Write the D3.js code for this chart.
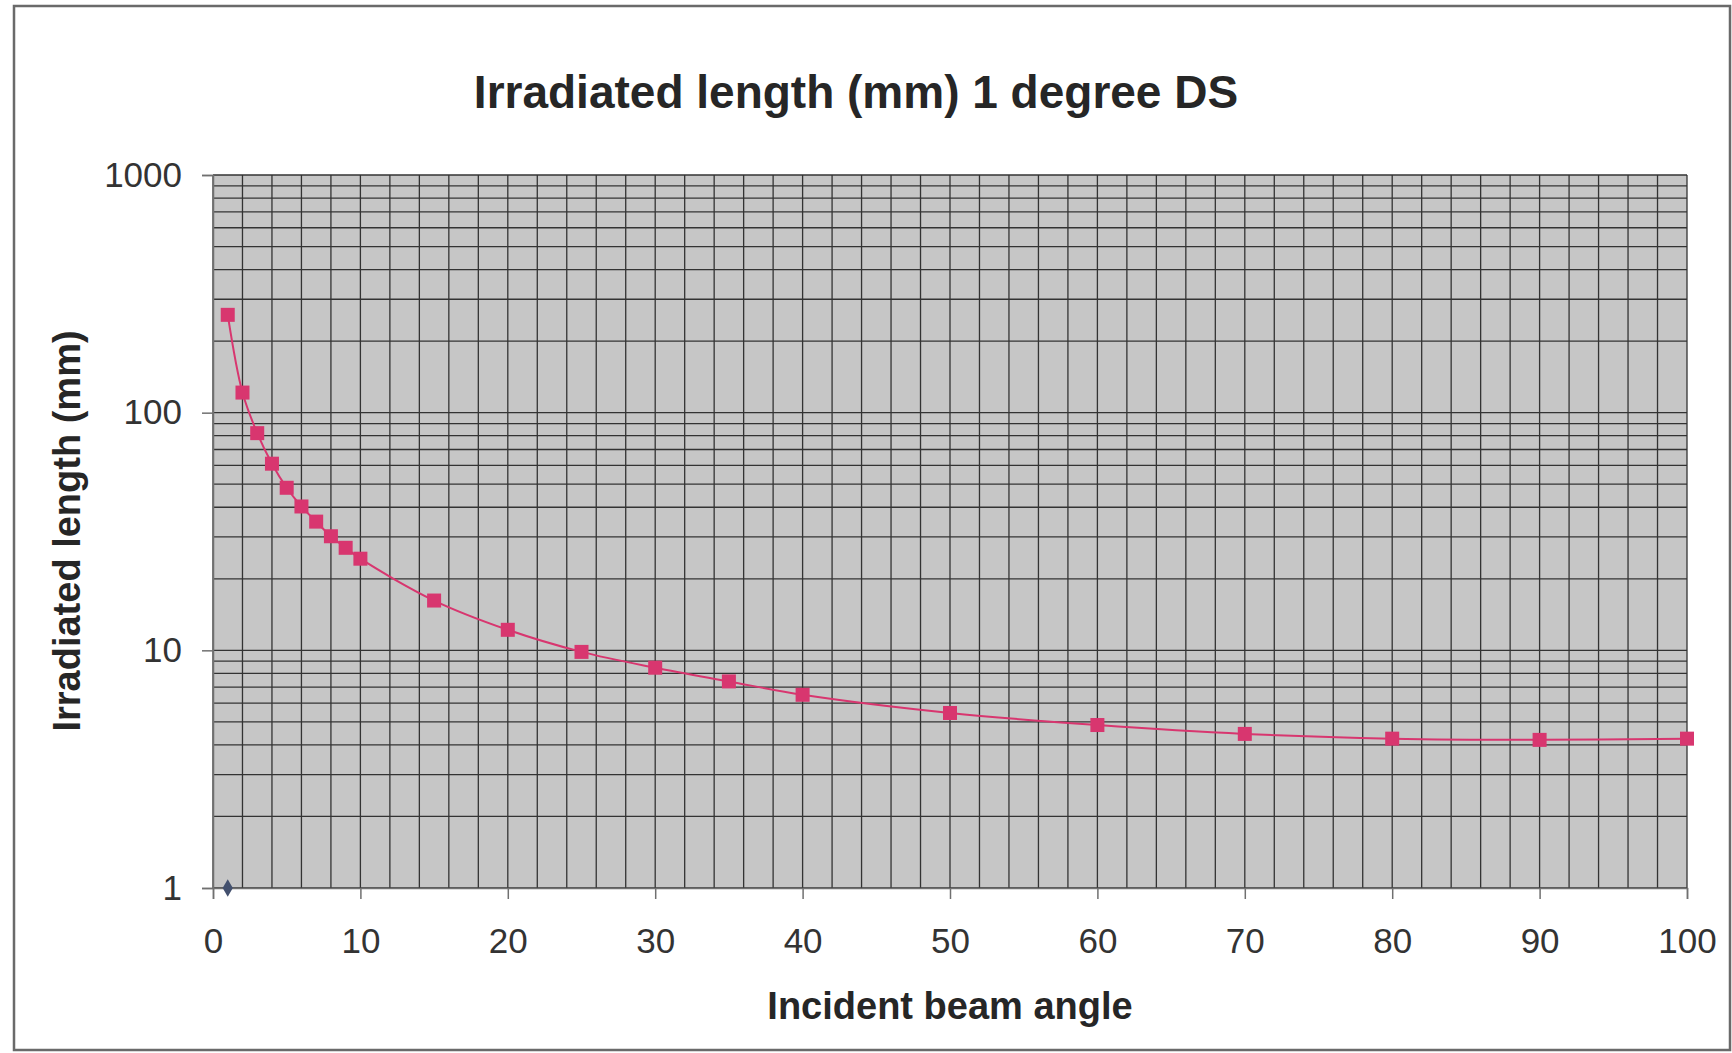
<!DOCTYPE html>
<html>
<head>
<meta charset="utf-8">
<script src="https://cdn.jsdelivr.net/npm/d3@7"></script>
<style>
  body { margin: 0; background: #fff; }
  text { font-family: "Liberation Sans", Arial, sans-serif; }
</style>
</head>
<body>
<div id="chart"></div>
<script>
// incident beam angle (deg)
var angles = [1, 2, 3, 4, 5, 6, 7, 8, 9, 10, 15, 20, 25, 30, 35, 40, 50, 60, 70, 80, 90, 100];
// irradiated length (mm)
var lengths = [258, 121.5, 82, 61, 48.3, 40.3, 34.8, 30.2, 27, 24.3, 16.2, 12.2, 9.85, 8.45, 7.4, 6.5, 5.45, 4.85, 4.45, 4.25, 4.2, 4.25];
// second series, a single point sitting on the axis
var series2 = [{x: 1, y: 1}];

var xTicks = [0, 10, 20, 30, 40, 50, 60, 70, 80, 90, 100];
var yTicks = [1, 10, 100, 1000];

var W = 1732, H = 1053;
var margin = {left: 213, right: 45, top: 175, bottom: 165};
var width = W - margin.left - margin.right;
var height = H - margin.top - margin.bottom;

var svg = d3.select("#chart").append("svg")
  .attr("width", W)
  .attr("height", H);

// outer frame
svg.append("rect")
  .attr("x", 14).attr("y", 6)
  .attr("width", 1716).attr("height", 1044)
  .attr("fill", "none")
  .attr("stroke", "#6a6a6a")
  .attr("stroke-width", 2.5);

svg.append("text")
  .attr("x", 856).attr("y", 108)
  .attr("text-anchor", "middle")
  .attr("font-size", 46)
  .attr("font-weight", "bold")
  .attr("fill", "#262626")
  .text("Irradiated length (mm) 1 degree DS");

var g = svg.append("g")
  .attr("transform", "translate(" + margin.left + "," + margin.top + ")");

var x = d3.scaleLinear().domain([0, 100]).range([0, width]);
var y = d3.scaleLog().domain([1, 1000]).range([height, 0]);

g.append("rect")
  .attr("width", width).attr("height", height)
  .attr("fill", "#c6c6c6");

// grid, every 2 units across and 1..9 per decade up
g.append("g").selectAll("line")
  .data(d3.range(0, 101, 2)).enter().append("line")
  .attr("x1", d => x(d)).attr("x2", d => x(d))
  .attr("y1", 0).attr("y2", height)
  .attr("stroke", "#333")
  .attr("stroke-width", 1.3);

g.append("g").selectAll("line")
  .data(y.ticks()).enter().append("line")
  .attr("x1", 0).attr("x2", width)
  .attr("y1", d => y(d)).attr("y2", d => y(d))
  .attr("stroke", "#333")
  .attr("stroke-width", 1.3);

var xAxis = g.append("g")
  .attr("transform", "translate(0," + height + ")")
  .call(d3.axisBottom(x).tickValues(xTicks).tickSize(11).tickPadding(29).tickFormat(d3.format("d")));
var yAxis = g.append("g")
  .call(d3.axisLeft(y).tickValues(yTicks).tickSize(11).tickPadding(20).tickFormat(d3.format("d")));

[xAxis, yAxis].forEach(function(a) {
  a.select(".domain").attr("stroke", "#707070").attr("stroke-width", 1.5);
  a.selectAll(".tick line").attr("stroke", "#707070").attr("stroke-width", 1.5);
  a.selectAll(".tick text")
    .attr("font-size", 35)
    .attr("font-family", "Liberation Sans, Arial, sans-serif")
    .attr("fill", "#333");
});

svg.append("text")
  .attr("x", 950).attr("y", 1019)
  .attr("text-anchor", "middle")
  .attr("font-size", 38)
  .attr("font-weight", "bold")
  .attr("fill", "#262626")
  .text("Incident beam angle");

svg.append("text")
  .attr("transform", "translate(80,531) rotate(-90)")
  .attr("text-anchor", "middle")
  .attr("font-size", 38)
  .attr("font-weight", "bold")
  .attr("fill", "#262626")
  .text("Irradiated length (mm)");

var pts = angles.map(function(a, i) { return {x: a, y: lengths[i]}; });
var pink = "#d8366f";

var line = d3.line()
  .x(d => x(d.x)).y(d => y(d.y))
  .curve(d3.curveCatmullRom.alpha(0.5));

g.append("path")
  .datum(pts)
  .attr("d", line)
  .attr("fill", "none")
  .attr("stroke", pink)
  .attr("stroke-width", 2);

var sq = 14;
g.append("g").selectAll("rect")
  .data(pts).enter().append("rect")
  .attr("x", d => x(d.x) - sq / 2)
  .attr("y", d => y(d.y) - sq / 2)
  .attr("width", sq).attr("height", sq)
  .attr("fill", pink);

var diamond = d3.symbol().type(d3.symbolDiamond).size(90);
g.append("g").selectAll("path")
  .data(series2).enter().append("path")
  .attr("transform", d => "translate(" + x(d.x) + "," + y(d.y) + ")")
  .attr("d", diamond)
  .attr("fill", "#43506e");
</script>
</body>
</html>
